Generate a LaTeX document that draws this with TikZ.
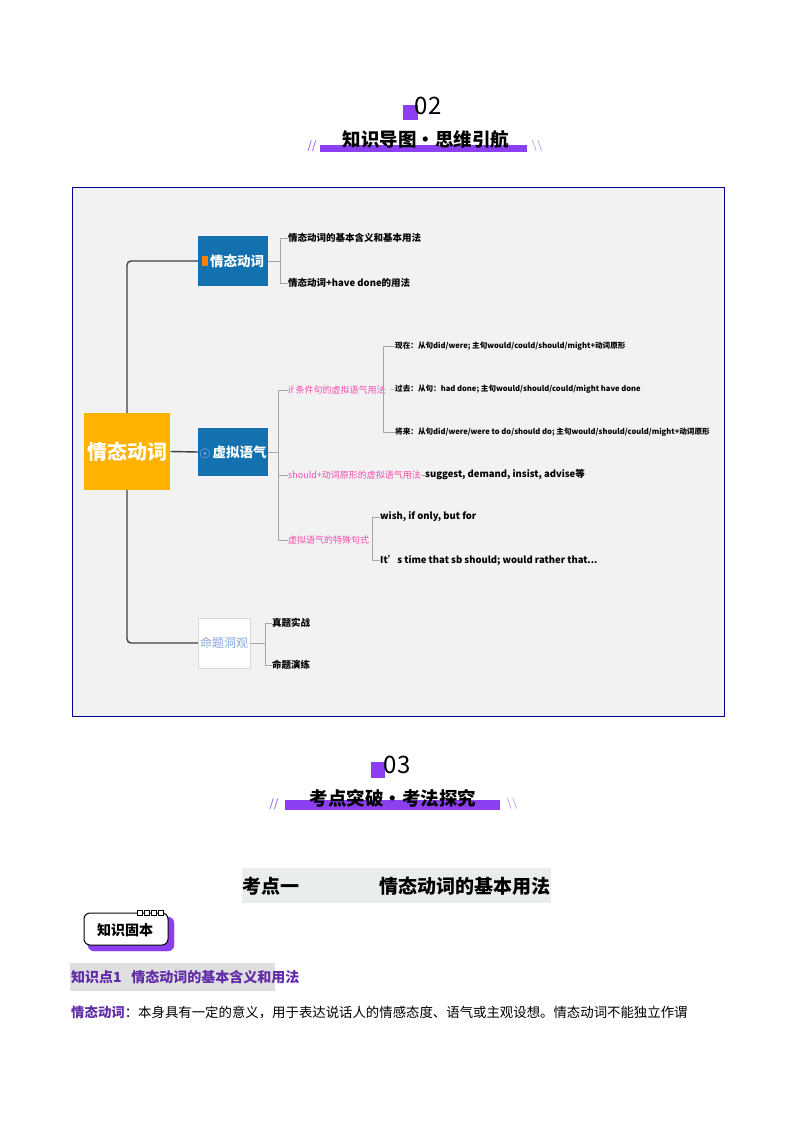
\documentclass[tikz,border=0pt]{standalone}
\usepackage{fontspec}
\setmainfont{Noto Sans CJK SC}
\newfontfamily\cjk{Noto Sans CJK SC}
\begin{document}
\begin{tikzpicture}[x=1pt,y=-1pt,
  leaf/.style={anchor=west,font=\fontsize{9.5}{10}\selectfont\bfseries,inner sep=0pt},
  qleaf/.style={anchor=west,font=\fontsize{7.6}{9}\selectfont\bfseries,inner sep=0pt},
  pink/.style={anchor=west,font=\fontsize{9}{10}\selectfont,text=magenta!70,inner sep=0pt},
  br/.style={draw=gray!70,line width=0.6pt},
  main/.style={draw=black!75,line width=1.4pt,rounded corners=4pt}]
\useasboundingbox (0,0) rectangle (794,1122);
\definecolor{pur}{HTML}{8B3FF0}
\definecolor{blu}{HTML}{1471B0}
% heading 02
\fill[pur] (403,105) rectangle (418,120);
\node (n02) at (428,106) {\fontsize{24}{24}\selectfont 02};
\fill[pur] (320,145) rectangle (527,152);
\node (t02) at (426,139) {\fontsize{18.5}{19}\selectfont\bfseries 知识导图•思维引航};
\node[text=pur] (s1) at (312,146) {\fontsize{11}{11}\selectfont //};
\node[text=pur] (s2) at (537,146) {\fontsize{11}{11}\selectfont $\backslash\backslash$};
% frame
\draw[fill=gray!10,draw=blue!60!black,line width=0.8pt] (72,187) rectangle (724,716);
% nodes
\node[fill=orange!60!yellow,minimum width=74pt,minimum height=77pt,text=white,font=\fontsize{20}{20}\selectfont\bfseries] (root) at (127,451.5) {情态动词};
\node[fill=blu,minimum width=70pt,minimum height=50pt,text=white,font=\fontsize{13.5}{14}\selectfont\bfseries,inner sep=1pt] (b1) at (233,261) {\textcolor{orange}{\rule{6pt}{10pt}}\,情态动词};
\node[fill=blu,minimum width=70pt,minimum height=48pt,text=white,font=\fontsize{13.5}{14}\selectfont\bfseries,inner sep=1pt] (b2) at (233,452) {\textcolor{white!80!blue}{$\odot$}\,虚拟语气};
\node[fill=white,draw=gray!30,minimum width=52pt,minimum height=50pt,text=cyan!50!blue!50,font=\fontsize{12}{12}\selectfont,inner sep=1pt] (b3) at (224,643) {命题洞观};
\draw[main] (root.north) |- (b1.west);
\draw[main] (root.east) -- (b2.west);
\draw[main] (root.south) |- (b3.west);
% branch 1 children
\node[leaf] (l11) at (288,238) {情态动词的基本含义和基本用法};
\node[leaf] (l12) at (288,283) {情态动词+have done的用法};
\node[draw=gray,circle,inner sep=0.5pt,font=\fontsize{7}{7}\selectfont,text=gray] (c3) at (394,283) {3};
\draw[br] (b1.east) -- (280,261);
\draw[br] (l11.west) -- (280,238) -- (280,283) -- (l12.west);
% branch 2
\node[pink] (p1) at (288,390) {if 条件句的虚拟语气用法};
\node[pink] (p2) at (288,475) {should+动词原形的虚拟语气用法};
\node[pink] (p3) at (288,540) {虚拟语气的特殊句式};
\draw[br] (b2.east) -- (278,452);
\draw[br] (p1.west) -- (278,390) -- (278,540) -- (p3.west);
\draw[br] (278,475) -- (p2.west);
\node[qleaf] (q1) at (395,346) {现在：从句did/were; 主句would/could/should/might+动词原形};
\node[qleaf] (q2) at (395,389) {过去：从句：had done; 主句would/should/could/might have done};
\node[qleaf] (q3) at (395,432) {将来：从句did/were/were to do/should do;\ 主句would/should/could/might+动词原形};
\draw[br] (p1.east) ++(4,0) -- (q2.west);
\draw[br] (q1.west) -- (383,346) -- (383,432) -- (q3.west);
\node[leaf] (r1) at (425,475) {suggest, demand, insist, advise等};
\draw[br] (p2.east) ++(6,0) -- ([xshift=-4pt]r1.west);
\node[leaf] (u1) at (380,517) {wish, if only, but for};
\node[leaf] (u2) at (380,560) {It's time that sb should; would rather that...};
\draw[br] (p3.east) ++(3,0) -- (372,540);
\draw[br] (u1.west) -- (372,517) -- (372,560) -- (u2.west);
% branch 3
\node[leaf] (v1) at (272,623) {真题实战};
\node[leaf] (v2) at (272,665) {命题演练};
\draw[br] (b3.east) -- (265,643);
\draw[br] (v1.west) -- (265,623) -- (265,665) -- (v2.west);
% heading 03
\fill[pur] (371,762) rectangle (385,778);
\node (n03) at (397,765) {\fontsize{24}{24}\selectfont 03};
\fill[pur] (285,800) rectangle (500,810);
\node (t03) at (393,798) {\fontsize{18.5}{19}\selectfont\bfseries 考点突破•考法探究};
\node[text=pur] (s3) at (274,804) {\fontsize{11}{11}\selectfont //};
\node[text=pur] (s4) at (512,804) {\fontsize{11}{11}\selectfont $\backslash\backslash$};
% green title
\fill[green!10!gray!15] (242,868) rectangle (551,903);
\node[anchor=west,font=\fontsize{19}{19}\selectfont\bfseries,inner sep=0pt] (g1) at (242,886) {考点一};
\node[anchor=east,font=\fontsize{19}{19}\selectfont\bfseries,inner sep=0pt] (g2) at (551,886) {情态动词的基本用法};
% badge
\draw[pur,fill=pur,rounded corners=6pt] (88,917) rectangle (174,951);
\draw[black,fill=white,line width=1pt,rounded corners=6pt] (84,913) rectangle (168,945);
\foreach \i in {0,1,2,3} \draw[black,fill=white,line width=0.6pt] (137+\i*7,910) rectangle ++(5,5);
\node[font=\fontsize{14}{14}\selectfont\bfseries] (kb) at (125,930) {知识固本};
% gray box
\fill[gray!25] (70,963) rectangle (275,991);
\node[anchor=west,text=pur!70!black,font=\fontsize{14}{14}\selectfont\bfseries,inner sep=0pt] (zs) at (71,977) {知识点1\ \ \ 情态动词的基本含义和用法};
% body
\node[anchor=west,font=\fontsize{13.4}{14}\selectfont,inner sep=0pt] (body) at (71,1012) {\textcolor{pur!70!black}{\bfseries 情态动词}：本身具有一定的意义，用于表达说话人的情感态度、语气或主观设想。情态动词不能独立作谓};
\end{tikzpicture}
\end{document}
